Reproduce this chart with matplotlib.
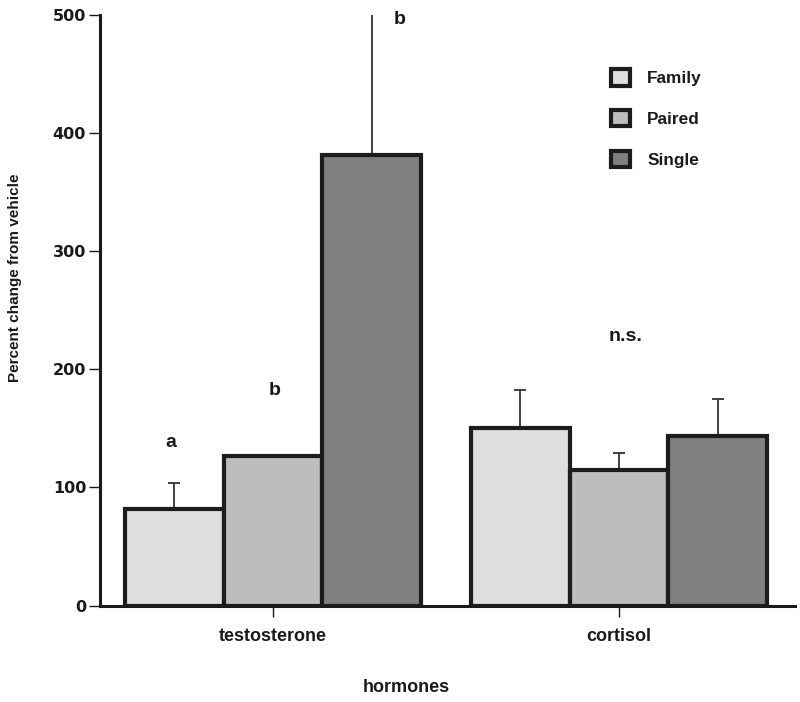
import matplotlib
matplotlib.use("Agg")
import matplotlib.pyplot as plt
from matplotlib.patches import Patch
import numpy as np

hormones = ["testosterone", "cortisol"]
groups = ["Family", "Paired", "Single"]
means = {
    "Family": [82, 150.5],
    "Paired": [127, 114.5],
    "Single": [381.5, 143.3],
}
errors = {
    "Family": [22, 32],
    "Paired": [0, 14.5],
    "Single": [140, 31.3],
}
colors = {"Family": "#dedede", "Paired": "#bdbdbd", "Single": "#7f7f7f"}
letters = ["a", "b", "b", "n.s."]
letter_pos = [(-0.294, 138), (0.006, 182), (0.367, 496), (1.02, 228)]

plt.rcParams["font.family"] = ["Liberation Sans", "DejaVu Sans"]

fig = plt.figure(figsize=(8, 7.02), dpi=100)
ax = fig.add_axes([100 / 800, 1 - 605.5 / 702, 695 / 800, 590.5 / 702])

x = np.arange(len(hormones))
w = 0.285
edge = "#1c1c1c"
for i, g in enumerate(groups):
    pos = x + (i - 1) * w
    ax.bar(pos, means[g], width=w, color=colors[g], edgecolor=edge,
           linewidth=3.0, zorder=3)
    for p, m, e in zip(pos, means[g], errors[g]):
        if e > 0:
            ax.errorbar(p, m, yerr=[[0], [e]], fmt="none", ecolor="#333333",
                        elinewidth=1.3, capsize=4, capthick=1.3, zorder=2)

for t, (lx, ly) in zip(letters, letter_pos):
    ax.text(lx, ly, t, ha="center", va="center", fontsize=14,
            fontweight="bold", color="#1a1a1a")

ax.set_xlim(-0.5, 1.509)
ax.set_ylim(0, 500)
ax.set_yticks([0, 100, 200, 300, 400, 500])
ax.set_xticks(x)
ax.set_xticklabels(hormones, fontsize=13, fontweight="bold", color="#1a1a1a")
for lab in ax.get_yticklabels():
    lab.set_fontfamily("DejaVu Sans")
    lab.set_fontweight("bold")
    lab.set_fontsize(11.5)
    lab.set_color("#1a1a1a")
ax.tick_params(axis="y", length=8, width=1, pad=2, color="#1a1a1a")
ax.tick_params(axis="x", length=8, width=1, pad=8, color="#1a1a1a")
for s in ["top", "right"]:
    ax.spines[s].set_visible(False)
for s in ["left", "bottom"]:
    ax.spines[s].set_linewidth(2.2)
    ax.spines[s].set_color("#1a1a1a")

fig.text(15 / 800, 1 - 278 / 702, "Percent change from vehicle", rotation=90,
         ha="center", va="center", fontsize=11, fontweight="bold",
         color="#1a1a1a")
fig.text(406 / 800, 1 - 688 / 702, "hormones", ha="center", va="center",
         fontsize=13, fontweight="bold", color="#1a1a1a")

handles = [Patch(facecolor=colors[g], edgecolor=edge, linewidth=3.0, label=g)
           for g in groups]
leg = fig.legend(handles=handles, loc="upper left",
                 bbox_to_anchor=(611 / 800, 1 - 69 / 702), frameon=False,
                 prop={"weight": "bold", "size": 12.4}, handlelength=1.1,
                 handleheight=1.1, handletextpad=1.0, labelspacing=1.38,
                 borderpad=0, borderaxespad=0)
for t in leg.get_texts():
    t.set_color("#1a1a1a")

fig.savefig("out.png", dpi=100)
